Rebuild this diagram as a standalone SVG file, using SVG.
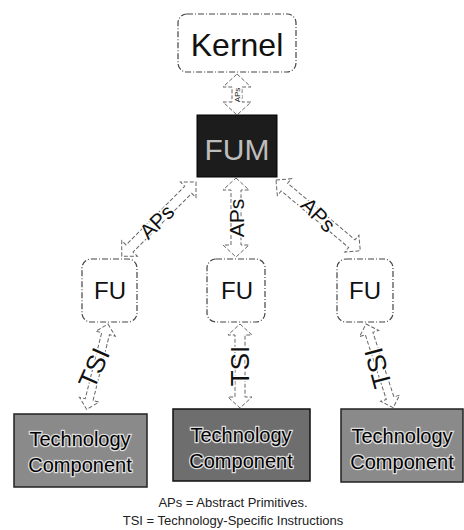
<svg xmlns="http://www.w3.org/2000/svg" width="464" height="530" viewBox="0 0 464 530">
<style>
.rbox{fill:#fff;stroke:#444;stroke-width:1.2;stroke-dasharray:6,2,1,2}
.dark{fill:#1c1c1c;stroke:#000}
.tc{fill:#8a8a8a;stroke:#222;stroke-width:1.5}
.tc2{fill:#6e6e6e;stroke:#111;stroke-width:1.5}
.arr{fill:#fff;stroke:#666;stroke-width:1;stroke-dasharray:4,2}
text{font-family:"Liberation Sans",Arial,sans-serif;text-anchor:middle}
.lbl{fill:#111;stroke:#fff;stroke-width:3;paint-order:stroke}
.node{font-size:24px;fill:#111}
.tct{font-size:20px;fill:#000;stroke:#ddd;stroke-width:2.5;paint-order:stroke}
.cap{font-size:13px;fill:#222}
</style>
<g id="connectors">
  <!-- Kernel <-> FUM -->
  <path class="arr" d="M237,74 L251,87 L242,87 L242,102 L251,102 L237,115 L223,102 L232,102 L232,87 L223,87 Z"/>
  <text class="lbl" font-size="8" transform="translate(240,95) rotate(-90)">APs</text>
  <!-- FUM <-> FU left -->
  <g transform="translate(196,182) rotate(135)">
    <path class="arr" d="M0,0 L11,-11 L11,-5 L94,-5 L94,-11 L105,0 L94,11 L94,5 L11,5 L11,11 Z"/>
  </g>
  <text class="lbl" font-size="21" transform="translate(157,222) rotate(-45)" dy="7">APs</text>
  <!-- FUM <-> FU middle -->
  <path class="arr" d="M236,178 L249,190 L241,190 L241,245 L249,245 L236,257 L223,245 L231,245 L231,190 L223,190 Z"/>
  <text class="lbl" font-size="21" transform="translate(237,218) rotate(-90)" dy="7">APs</text>
  <!-- FUM <-> FU right -->
  <g transform="translate(276,180) rotate(40)">
    <path class="arr" d="M0,0 L11,-11 L11,-5 L99,-5 L99,-11 L110,0 L99,11 L99,5 L11,5 L11,11 Z"/>
  </g>
  <text class="lbl" font-size="21" transform="translate(318,215) rotate(45)" dy="7">APs</text>
  <!-- FU <-> TC left -->
  <g transform="translate(108,324) rotate(104)">
    <path class="arr" d="M0,0 L10,-10 L10,-4 L78,-4 L78,-10 L88,0 L78,10 L78,4 L10,4 L10,10 Z"/>
  </g>
  <text class="lbl" font-size="26" transform="translate(94,368) rotate(-66)" dy="9">TSI</text>
  <!-- FU <-> TC middle -->
  <path class="arr" d="M240,324 L252,335 L245,335 L245,397 L252,397 L240,408 L228,397 L235,397 L235,335 L228,335 Z"/>
  <text class="lbl" font-size="26" transform="translate(240,366) rotate(-90)" dy="9">TSI</text>
  <!-- FU <-> TC right -->
  <g transform="translate(366,324) rotate(72)">
    <path class="arr" d="M0,0 L10,-10 L10,-4 L78,-4 L78,-10 L88,0 L78,10 L78,4 L10,4 L10,10 Z"/>
  </g>
  <text class="lbl" font-size="26" transform="translate(378,368) rotate(-105)" dy="9">TSI</text>
</g>
<g id="kernel">
  <rect class="rbox" x="178" y="14" width="118" height="58" rx="9"/>
  <text x="237" y="56" font-size="32" fill="#111">Kernel</text>
</g>
<g id="fum">
  <rect class="dark" x="197" y="115" width="80" height="62"/>
  <text x="237" y="160" font-size="30" fill="#bdbdbd">FUM</text>
</g>
<g id="fu1">
  <rect class="rbox" x="82" y="259" width="55" height="63" rx="9"/>
  <text class="node" x="110" y="299">FU</text>
</g>
<g id="fu2">
  <rect class="rbox" x="207" y="259" width="58" height="63" rx="9"/>
  <text class="node" x="237" y="299">FU</text>
</g>
<g id="fu3">
  <rect class="rbox" x="337" y="259" width="56" height="63" rx="9"/>
  <text class="node" x="365" y="299">FU</text>
</g>
<g id="tc1">
  <rect class="tc" x="14" y="414" width="133" height="73"/>
  <text class="tct" x="80" y="446">Technology</text>
  <text class="tct" x="80" y="472">Component</text>
</g>
<g id="tc2">
  <rect class="tc2" x="173" y="409" width="137" height="72"/>
  <text class="tct" x="241" y="442">Technology</text>
  <text class="tct" x="241" y="468">Component</text>
</g>
<g id="tc3">
  <rect class="tc" x="341" y="409" width="122" height="73"/>
  <text class="tct" x="402" y="443">Technology</text>
  <text class="tct" x="402" y="469">Component</text>
</g>
<g id="caption">
  <text class="cap" x="233" y="507">APs = Abstract Primitives.</text>
  <text class="cap" x="233" y="525">TSI = Technology-Specific Instructions</text>
</g>
</svg>
